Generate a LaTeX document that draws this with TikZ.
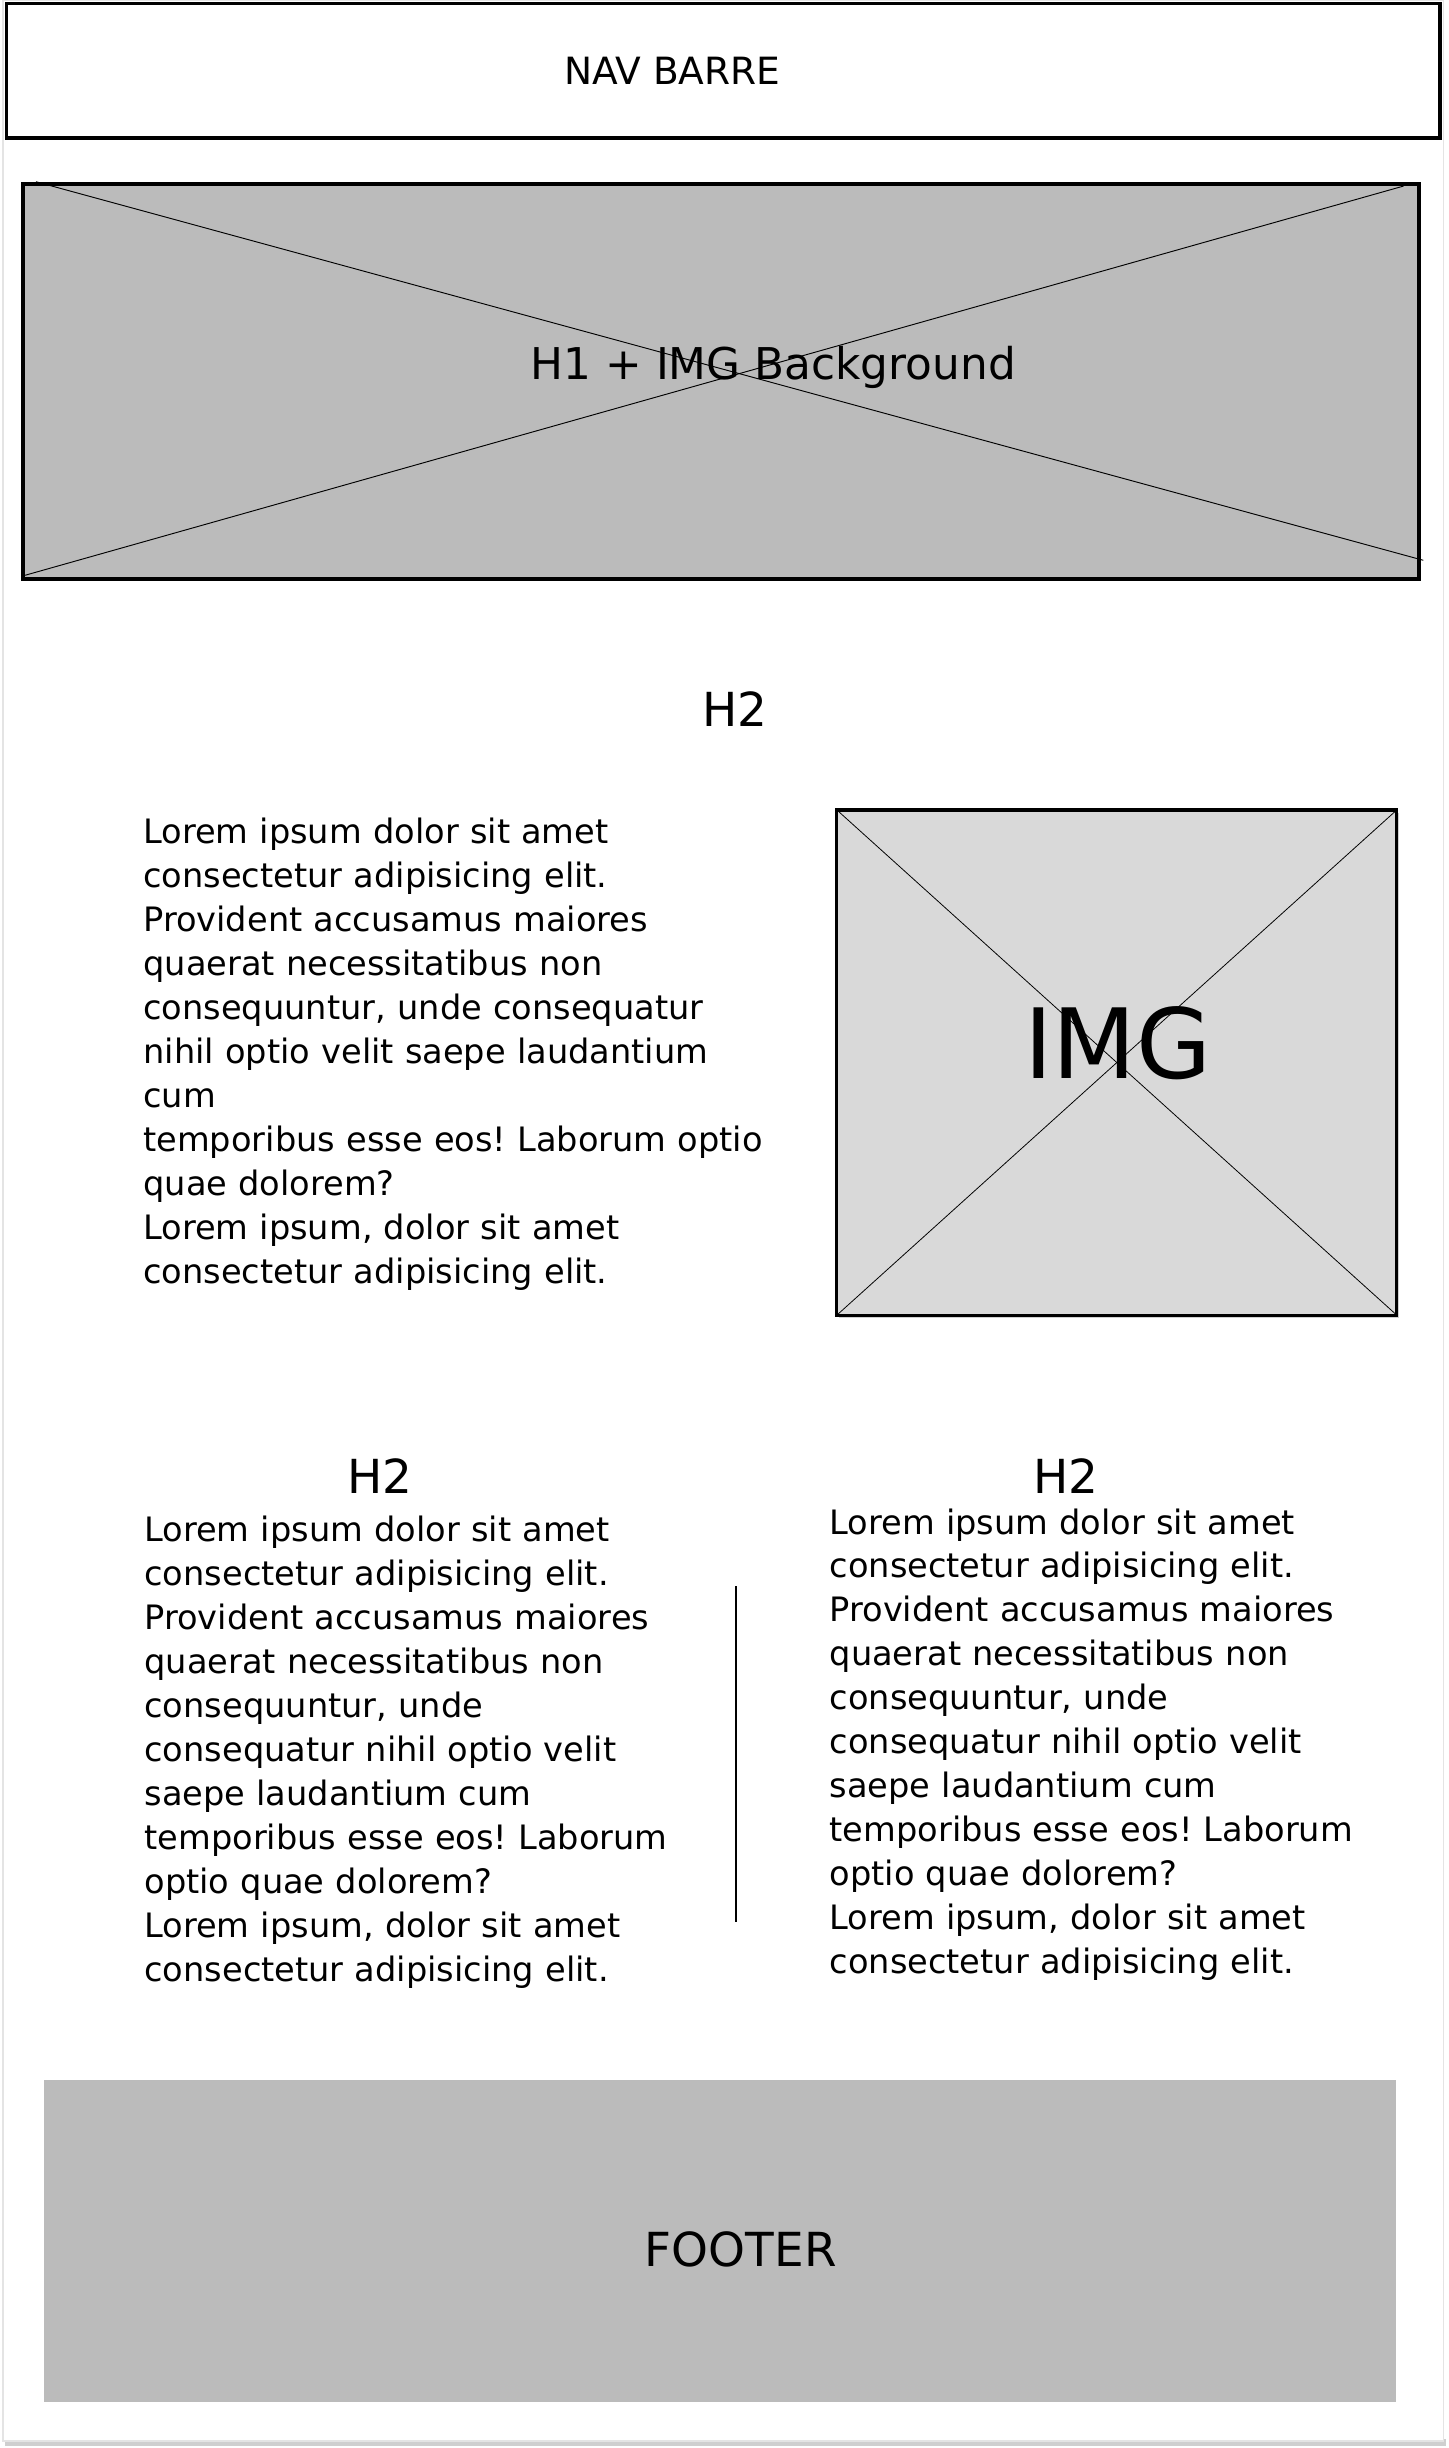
\documentclass[tikz,border=0pt]{standalone}
\usepackage{fontspec}
\setmainfont{DejaVu Sans}
\frenchspacing

\definecolor{heroGray}{HTML}{BBBBBB}
\definecolor{imgGray}{HTML}{D9D9D9}
\definecolor{frameGray}{HTML}{E4E4E4}
\definecolor{shadowGray}{HTML}{CFCFCF}

\begin{document}
\begin{tikzpicture}
[x=1pt, y=-1pt, frame line/.style={frameGray, line width=1pt}, box line/.style={line width=2.2pt}, cross line/.style={line width=0.6pt}, heading/.style={anchor=base, inner sep=0pt, font=\fontsize{30}{36}\selectfont}, body text/.style={anchor=base west, inner sep=0pt, align=left, text width=430pt, font=\fontsize{21.5}{28.1}\selectfont}]
    \useasboundingbox (0,0) rectangle (926,1565.5);
    \coordinate (page nw) at (2,0);
    \coordinate (page se) at (923,1561);
    \coordinate (nav nw) at (4,2.2);
    \coordinate (nav se) at (921,88.3);
    \coordinate (hero nw) at (14.7,117.9);
    \coordinate (hero se) at (907.2,370.4);
    \coordinate (hero a) at (23,116.2);
    \coordinate (hero b) at (910.2,358.3);
    \coordinate (hero c) at (897.5,119);
    \coordinate (hero d) at (16,367.9);
    \coordinate (img nw) at (535.2,518);
    \coordinate (img se) at (893.2,841);
    \coordinate (img ne) at (893.2,518);
    \coordinate (img sw) at (535.2,841);
    \coordinate (shade nw) at (536.7,520);
    \coordinate (shade se) at (894.7,843);
    \coordinate (div top) at (470.7,1014.5);
    \coordinate (div bottom) at (470.7,1229.4);
    \coordinate (foot nw) at (28.3,1330.4);
    \coordinate (foot se) at (892.8,1536.1);
    % page
    \fill[shadowGray] (3,1560) rectangle (924.5,1564);
    \fill[white] (page nw) rectangle (page se);
    \draw[frame line] (page nw) rectangle (page se);
    % nav
    \draw[box line, fill=white] (nav nw) rectangle (nav se);
    \node[heading, font=\fontsize{24}{29}\selectfont] (nav label) at (430,53.8) {NAV BARRE};
    % hero
    \draw[box line, line width=2.6pt, fill=heroGray] (hero nw) rectangle (hero se);
    \draw[cross line] (hero a) -- (hero b);
    \draw[cross line] (hero c) -- (hero d);
    \node[heading, font=\fontsize{28}{34}\selectfont] (hero label) at (494.5,242.8) {H1 + IMG Background};
    % first section
    \node[heading] (title one) at (469.9,464.3) {H2};
    \node[body text] (text one) at (91.5,539.6) {Lorem ipsum dolor sit amet\\consectetur adipisicing elit.\\Provident accusamus maiores\\quaerat necessitatibus non\\consequuntur, unde consequatur\\nihil optio velit saepe laudantium\\cum\\temporibus esse eos! Laborum optio\\quae dolorem?\\Lorem ipsum, dolor sit amet\\consectetur adipisicing elit.};
    \fill[shadowGray] (shade nw) rectangle (shade se);
    \draw[box line, line width=2pt, fill=imgGray] (img nw) rectangle (img se);
    \draw[cross line, line width=0.5pt] (img nw) -- (img se);
    \draw[cross line, line width=0.5pt] (img ne) -- (img sw);
    \node[heading, font=\fontsize{62}{70}\selectfont] (img label) at (715,689.4) {IMG};
    % two columns
    \node[heading] (title left) at (243,955.3) {H2};
    \node[heading] (title right) at (681.5,955.3) {H2};
    \node[body text, text width=360pt] (text left) at (92.2,985.9) {Lorem ipsum dolor sit amet\\consectetur adipisicing elit.\\Provident accusamus maiores\\quaerat necessitatibus non\\consequuntur, unde\\consequatur nihil optio velit\\saepe laudantium cum\\temporibus esse eos! Laborum\\optio quae dolorem?\\Lorem ipsum, dolor sit amet\\consectetur adipisicing elit.};
    \node[body text, text width=360pt] (text right) at (530.4,981) {Lorem ipsum dolor sit amet\\consectetur adipisicing elit.\\Provident accusamus maiores\\quaerat necessitatibus non\\consequuntur, unde\\consequatur nihil optio velit\\saepe laudantium cum\\temporibus esse eos! Laborum\\optio quae dolorem?\\Lorem ipsum, dolor sit amet\\consectetur adipisicing elit.};
    \draw[line width=1.3pt] (div top) -- (div bottom);
    % footer
    \fill[heroGray] (foot nw) rectangle (foot se);
    \node[heading] (foot label) at (473.7,1449.5) {FOOTER};
\end{tikzpicture}
\end{document}
